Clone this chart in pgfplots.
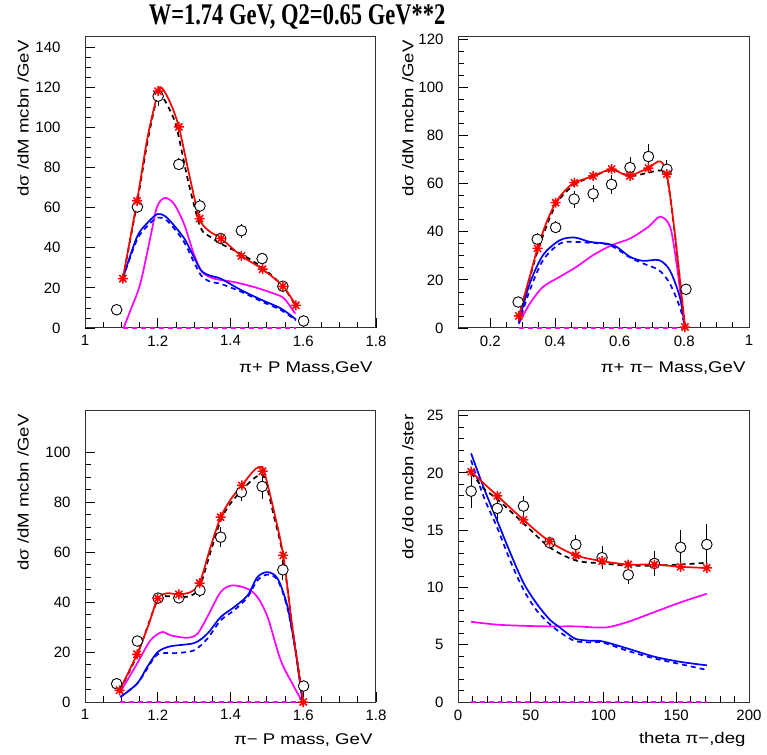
\documentclass[border=0pt]{standalone}
\usepackage{pgfplots}
\usepackage{pgfplotstable}
\pgfplotsset{compat=1.18}
\usepackage{fontspec}
\setmainfont{Liberation Sans}[FakeStretch=1.2]
\newfontfamily\tickfont{Liberation Sans}
\newfontfamily\titlefont{Liberation Serif}[FakeStretch=0.75]
\pgfdeclareplotmark{rstar}{%
\pgfpathmoveto{\pgfqpoint{-\pgfplotmarksize}{0pt}}\pgfpathlineto{\pgfqpoint{\pgfplotmarksize}{0pt}}%
\pgfpathmoveto{\pgfqpoint{0pt}{-\pgfplotmarksize}}\pgfpathlineto{\pgfqpoint{0pt}{\pgfplotmarksize}}%
\pgfpathmoveto{\pgfqpoint{-0.707\pgfplotmarksize}{-0.707\pgfplotmarksize}}\pgfpathlineto{\pgfqpoint{0.707\pgfplotmarksize}{0.707\pgfplotmarksize}}%
\pgfpathmoveto{\pgfqpoint{-0.707\pgfplotmarksize}{0.707\pgfplotmarksize}}\pgfpathlineto{\pgfqpoint{0.707\pgfplotmarksize}{-0.707\pgfplotmarksize}}%
\pgfusepathqstroke}
\definecolor{mag}{RGB}{255,0,255}
\definecolor{blu}{RGB}{0,0,255}
% experimental data: x y err
\pgfplotstableread{
x y e
1.087 9.1 2
1.144 60.3 3
1.201 115.5 5
1.258 81.5 3
1.316 60.8 3.5
1.373 44.6 2.5
1.430 48.5 3.5
1.487 34.6 2.5
1.544 20.8 2
1.601 3.5 1.5
}\dataA
\pgfplotstableread{
x y e
0.286 10.8 2
0.345 36.9 2.5
0.402 41.8 2.5
0.459 53.6 3.5
0.518 55.8 3.5
0.575 59.7 4
0.632 66.7 4.5
0.689 71.3 5
0.746 66.0 4
0.805 16.1 2
}\dataB
\pgfplotstableread{
x y e
1.087 7.3 1.5
1.144 24.4 2
1.201 41.6 2
1.258 41.7 2
1.316 44.7 2.5
1.373 66 4
1.430 84 3.5
1.487 86.3 5
1.544 52.9 4
1.601 6.4 1.5
}\dataC
\pgfplotstableread{
x y e
9 18.4 1.5
27 16.9 1
45 17.1 0.9
63 13.9 0.5
81 13.75 0.8
99 12.6 1
117 11.1 0.8
135 12.1 1.1
153 13.5 1.5
171 13.75 1.8
}\dataD
\pgfplotsset{
 panel/.style={scale only axis, width=291pt, height=291pt, anchor=south west,
  tick align=inside, tick pos=left, major tick length=10pt, minor tick length=6pt,
  axis line style={black!80,line width=1pt}, every tick/.style={black,line width=0.8pt},
  /pgf/number format/assume math mode=true,
  ticklabel style={font=\tickfont\fontsize{15}{18}\selectfont},
  label style={font=\fontsize{15.5}{18}\selectfont},
  xticklabel style={yshift=-4pt},
  clip=false},
 errs/.style={draw=none, mark=none, error bars/.cd, y dir=both, y explicit, error mark=none,
  error bar style={draw=black,solid,line width=0.9pt}},
 circ/.style={only marks, mark=*, mark size=5.3pt, mark options={fill=white,draw=black,line width=0.9pt}},
 stars/.style={only marks, mark=rstar, mark size=5pt, red, mark options={line width=1.5pt}},
 redl/.style={no marks, red, line width=1.7pt, smooth, tension=0.5},
 blkd/.style={no marks, black, line width=1.7pt, dash pattern=on 5pt off 4pt, smooth, tension=0.5},
 blul/.style={no marks, blu, line width=1.7pt, smooth, tension=0.5},
 blud/.style={no marks, blu, line width=1.7pt, dash pattern=on 5pt off 4pt, smooth, tension=0.5},
 magl/.style={no marks, mag, line width=1.7pt, smooth, tension=0.5},
 magd/.style={no marks, mag, line width=1.7pt, dash pattern=on 5pt off 4pt},
}
\begin{document}
\begin{tikzpicture}
\path[use as bounding box] (0pt,0pt) rectangle (767pt,754pt);
\node[font=\titlefont\bfseries\fontsize{30}{32}\selectfont] at (297pt,737pt) {W=1.74 GeV, Q2=0.65 GeV**2};
% Panel 1
\begin{axis}[panel, at={(85pt,426pt)}, xmin=1, xmax=1.8, ymin=0, ymax=145,
 xtick={1,1.2,...,1.8}, minor x tick num=3, ytick={0,20,...,140}, minor y tick num=3,
 yticklabel style={xshift=-21pt},
 xlabel={π+ P Mass,GeV}, ylabel={dσ /dM mcbn /GeV},
 xlabel style={at={(axis description cs:1,-0.1375)}, anchor=east},
 ylabel style={at={(axis description cs:-0.213,1)}, anchor=east}]
\addplot[errs] table[x=x,y=y,y error=e] {\dataA};
\addplot[circ] table[x=x,y=y] {\dataA};
\addplot[magd] coordinates {(1.104,0) (1.58,0)};
\addplot[magl] coordinates {(1.106,0) (1.125,8.8) (1.152,22.1) (1.180,45.4) (1.198,60.3) (1.219,64.8) (1.244,62) (1.272,52) (1.299,37) (1.322,28) (1.355,24.6) (1.41,22.9) (1.465,20.4) (1.52,17.1) (1.548,14.6) (1.578,7.1)};
\addplot[blud] coordinates {(1.104,24.6) (1.143,44) (1.175,51.5) (1.2,55) (1.222,54) (1.25,48.5) (1.275,42) (1.299,33) (1.32,26) (1.345,23) (1.373,22) (1.43,18) (1.488,13) (1.54,8.8) (1.58,3.8)};
\addplot[blul] coordinates {(1.104,24.6) (1.143,45.4) (1.175,53) (1.2,56.8) (1.222,55.5) (1.25,50) (1.275,44) (1.299,35.5) (1.32,28.5) (1.345,26) (1.373,24.6) (1.43,18.8) (1.488,13.8) (1.54,9.6) (1.58,4.2)};
\addplot[blkd] coordinates {(1.104,24.6) (1.143,62) (1.172,93) (1.199,115.5) (1.21,116) (1.235,108) (1.253,99) (1.285,72) (1.318,50) (1.345,45.4) (1.373,42) (1.43,36.8) (1.488,30) (1.544,20.8) (1.58,10.8)};
\addplot[redl] coordinates {(1.104,24.6) (1.143,63.3) (1.172,95) (1.201,117.5) (1.212,119.5) (1.235,112) (1.258,100.2) (1.287,76) (1.315,54.5) (1.34,48.5) (1.374,44.6) (1.430,35.9) (1.488,29.3) (1.544,20.8) (1.580,11.3)};
\addplot[stars] coordinates {(1.104,24.6) (1.143,63.3) (1.201,118) (1.258,100.2) (1.315,54.5) (1.374,44.6) (1.430,35.9) (1.488,29.3) (1.544,20.8) (1.580,11.3)};
\end{axis}
% Panel 2
\begin{axis}[panel, at={(458pt,426pt)}, xmin=0.1, xmax=1, ymin=0, ymax=121,
 xtick={0.2,0.4,...,1.0}, minor x tick num=3, ytick={0,20,...,120}, minor y tick num=3,
 yticklabel style={xshift=-11pt},
 xlabel={π+ π− Mass,GeV}, ylabel={dσ /dM mcbn /GeV},
 xlabel style={at={(axis description cs:1,-0.1375)}, anchor=east},
 ylabel style={at={(axis description cs:-0.172,1)}, anchor=east}]
\addplot[errs] table[x=x,y=y,y error=e] {\dataB};
\addplot[circ] table[x=x,y=y] {\dataB};
\addplot[magd] coordinates {(0.288,0) (0.802,0)};
\addplot[magl] coordinates {(0.288,1.8) (0.322,10.1) (0.363,17.1) (0.415,21.3) (0.466,25.4) (0.518,30.3) (0.575,34.4) (0.632,37.2) (0.689,42.1) (0.725,46.3) (0.756,42.1) (0.776,26.8) (0.792,10) (0.802,0.4)};
\addplot[blud] coordinates {(0.288,1.8) (0.322,15.7) (0.363,28.2) (0.415,35.1) (0.461,35.8) (0.508,35.4) (0.559,34.9) (0.59,33) (0.632,29.3) (0.673,26.8) (0.722,24) (0.755,18.5) (0.786,8.75) (0.802,0.4)};
\addplot[blul] coordinates {(0.288,2.5) (0.322,18.5) (0.363,30.3) (0.415,36.5) (0.461,37.6) (0.508,35.8) (0.559,35.1) (0.59,33.8) (0.632,29.6) (0.673,27.9) (0.722,28.2) (0.755,24) (0.786,12.9) (0.802,0.4)};
\addplot[blkd] coordinates {(0.288,4.6) (0.346,31.8) (0.402,51.1) (0.46,59.6) (0.518,63) (0.575,65.8) (0.632,63.2) (0.689,64.6) (0.725,65.5) (0.746,63) (0.77,40) (0.802,0.4)};
\addplot[redl] coordinates {(0.288,5) (0.317,19) (0.346,33.1) (0.374,44) (0.402,52.1) (0.43,57) (0.460,60.4) (0.518,63.2) (0.575,66.1) (0.605,64.3) (0.632,63.2) (0.66,64.8) (0.689,66.5) (0.71,68.5) (0.727,69.2) (0.746,64.0) (0.77,40) (0.802,0.4)};
\addplot[stars] coordinates {(0.288,5.0) (0.346,33.1) (0.402,52.1) (0.460,60.4) (0.518,63.2) (0.575,66.1) (0.632,63.2) (0.689,66.5) (0.746,64.0) (0.802,0.4)};
\end{axis}
% Panel 3
\begin{axis}[panel, at={(85pt,52pt)}, xmin=1, xmax=1.8, ymin=0, ymax=116.5,
 xtick={1,1.2,...,1.8}, minor x tick num=3, ytick={0,20,...,100}, minor y tick num=3,
 yticklabel style={xshift=-11pt},
 xlabel={π− P mass, GeV}, ylabel={dσ /dM mcbn /GeV},
 xlabel style={at={(axis description cs:1,-0.13)}, anchor=east},
 ylabel style={at={(axis description cs:-0.213,1)}, anchor=east}]
\addplot[errs] table[x=x,y=y,y error=e] {\dataC};
\addplot[circ] table[x=x,y=y] {\dataC};
\addplot[magd] coordinates {(1.095,0) (1.6,0)};
\addplot[magl] coordinates {(1.097,4) (1.143,15.3) (1.18,24.7) (1.212,28) (1.235,26.7) (1.281,25.7) (1.309,27.3) (1.336,34) (1.373,44) (1.405,46.7) (1.447,45.3) (1.474,42) (1.502,34) (1.538,16.7) (1.575,6) (1.598,0)};
\addplot[blud] coordinates {(1.097,2) (1.143,7.3) (1.171,13.3) (1.2,19.1) (1.253,19.6) (1.3,20.7) (1.336,25.3) (1.373,32.7) (1.41,36.7) (1.447,42) (1.474,48.7) (1.502,51) (1.53,48.7) (1.557,37.3) (1.58,19.3) (1.598,0)};
\addplot[blul] coordinates {(1.097,2) (1.143,7.3) (1.171,14) (1.2,20) (1.235,22.3) (1.3,23.6) (1.336,27.3) (1.373,34) (1.41,38) (1.447,42.7) (1.474,50) (1.502,52) (1.53,49.3) (1.557,38) (1.58,19.3) (1.598,0)};
\addplot[blkd] coordinates {(1.095,4.7) (1.143,18.7) (1.2,41) (1.225,42.3) (1.258,42) (1.29,42.5) (1.315,46) (1.345,60) (1.373,72.7) (1.40,79.5) (1.431,84.7) (1.46,89) (1.483,91) (1.495,89) (1.52,74) (1.545,58) (1.57,30) (1.6,0)};
\addplot[redl] coordinates {(1.095,4.7) (1.143,19.1) (1.175,31) (1.2,41.5) (1.225,43.5) (1.258,43.1) (1.29,44) (1.315,47.6) (1.345,62) (1.373,74) (1.40,81) (1.431,86.7) (1.46,92) (1.477,94) (1.492,92.5) (1.52,76) (1.545,58.7) (1.57,30) (1.6,0)};
\addplot[stars] coordinates {(1.095,4.7) (1.143,19.1) (1.2,41.5) (1.258,43.1) (1.315,47.6) (1.373,74) (1.431,86.7) (1.488,92.4) (1.545,58.7) (1.6,0)};
\end{axis}
% Panel 4
\begin{axis}[panel, at={(458pt,52pt)}, xmin=0, xmax=200, ymin=0, ymax=25.4,
 xtick={0,50,...,200}, minor x tick num=4, ytick={0,5,...,25}, minor y tick num=4,
 yticklabel style={xshift=-11pt},
 xlabel={theta π−,deg}, ylabel={dσ /do mcbn /ster},
 xlabel style={at={(axis description cs:1,-0.13)}, anchor=east},
 ylabel style={at={(axis description cs:-0.172,1)}, anchor=east}]
\addplot[errs] table[x=x,y=y,y error=e] {\dataD};
\addplot[circ] table[x=x,y=y] {\dataD};
\addplot[magd] coordinates {(9,0) (171,0)};
\addplot[magl] coordinates {(9,7.0) (27,6.75) (45,6.65) (63,6.6) (81,6.6) (95,6.5) (104,6.55) (117,7.0) (135,7.85) (153,8.7) (171,9.45)};
\addplot[blud] coordinates {(9,21.1) (18,17.8) (27,15.2) (36,12.3) (45,9.8) (54,8.0) (63,6.8) (70,6.1) (76,5.6) (81,5.3) (90,5.2) (99,5.2) (117,4.45) (135,3.8) (153,3.3) (171,2.8)};
\addplot[blul] coordinates {(9,21.7) (18,18.6) (27,15.8) (36,13) (45,10.4) (54,8.6) (63,7.2) (70,6.5) (76,5.9) (81,5.5) (90,5.35) (99,5.3) (117,4.65) (135,3.95) (153,3.5) (171,3.2)};
\addplot[blkd] coordinates {(9,20.0) (18,18.6) (27,17.7) (45,15.6) (63,13.5) (81,12.35) (99,12.1) (117,11.9) (135,11.9) (153,12.0) (171,12.15)};
\addplot[redl] coordinates {(9,20.1) (27,18.0) (45,15.9) (63,14.0) (81,12.8) (99,12.3) (117,12.0) (135,12.0) (153,11.8) (171,11.7)};
\addplot[stars] coordinates {(9,20.1) (27,18.0) (45,15.9) (63,14.0) (81,12.8) (99,12.3) (117,12.0) (135,12.0) (153,11.8) (171,11.7)};
\end{axis}
\end{tikzpicture}
\end{document}
